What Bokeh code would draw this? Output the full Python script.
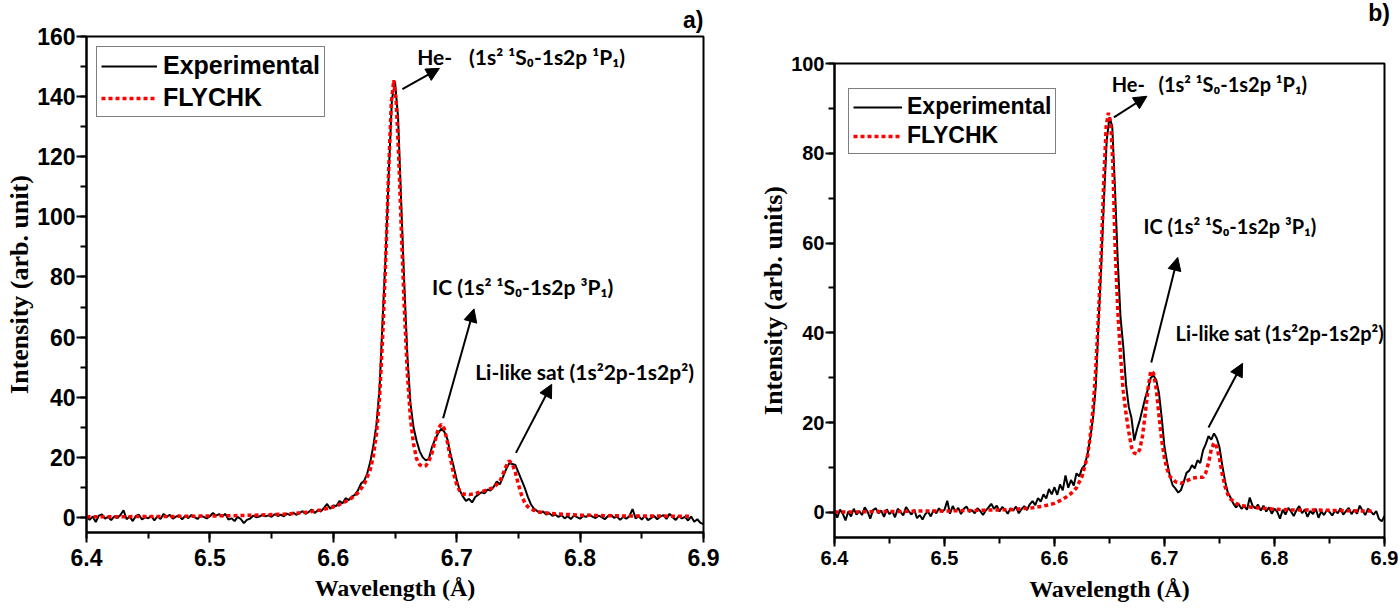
import numpy as np
from bokeh.plotting import figure
from bokeh.models import Arrow, NormalHead, Label, SingleIntervalTicker, Div
from bokeh.layouts import row, column
from bokeh.embed import file_html
from bokeh.resources import INLINE

# ---- data ----
# experimental spectra, sampled every 0.0025 A from 6.40 to 6.90
exp_a = [
    0.5, -0.8, 0.3, -1.5, 0.6, 1.0, -0.4, 0.2, -0.9, 0.4,
    -0.2, 0.8, 2.4, -0.6, 0.3, -1.2, 0.5, 0.9, -0.7, 0.1,
    -0.3, 0.6, -1.0, 0.4, -0.5, 1.2, 0.2, 0.9, -0.4, 0.3,
    0.7, -0.6, 0.5, -0.2, 0.8, 0.1, -0.5, 0.6, 0.2, -0.3,
    0.4, 1.5, 0.6, 1.1, 0.3, 1.2, -0.7, -0.3, -1.2, 0.2,
    -0.5, -1.9, -0.8, -0.4, 0.6, 0.1, 0.3, 0.9, 0.4, 0.7,
    0.2, 1.1, 0.5, 0.9, 0.4, 1.3, 0.8, 1.6, 0.9, 1.4,
    2.1, 1.2, 1.8, 2.6, 1.5, 2.4, 2.0, 3.2, 4.5, 2.9,
    4.0, 3.8, 5.5, 4.7, 6.4, 5.8, 6.9, 7.5, 9.0, 11.3,
    12.2, 14.6, 18.5, 24.0, 31.0, 43.0, 66.0, 88.0, 115.0, 139.0,
    145.0, 133.0, 105.0, 78.0, 54.0, 38.0, 30.0, 25.5, 22.0, 20.0,
    19.0, 19.5, 23.5, 26.0, 28.0, 29.5, 28.5, 26.0, 21.0, 17.0,
    12.5, 9.0, 7.0, 5.5, 6.2, 5.0, 6.8, 7.6, 8.4, 8.0,
    9.3, 9.0, 10.2, 12.0, 11.0, 13.5, 16.0, 18.0, 17.8, 17.5,
    15.0, 12.5, 10.0, 7.0, 4.5, 3.0, 2.2, 1.5, 2.0, 1.0,
    1.4, 0.6, 0.9, 0.2, 0.8, -0.3, 0.4, -0.5, 0.6, 0.1,
    -0.4, 0.5, 0.2, 1.0, 0.3, -0.2, 0.6, 0.1, -0.6, 0.4,
    0.9, -0.1, 0.3, -0.8, 0.2, -0.4, 0.5, 2.8, -0.3, 0.4,
    -0.7, 0.6, -0.9, -0.2, 0.5, -0.6, 0.3, 0.8, -0.5, 1.2,
    0.1, -0.8, 0.4, -0.3, 0.2, -1.0, 0.3, -1.4, -0.6, -1.8,
    -2.2,
]
exp_b = [
    0.4, -1.2, 0.6, -0.3, -1.8, 0.2, -0.9, 0.8, -0.5, 0.3,
    -0.6, 1.1, 0.2, -1.4, 0.5, 0.9, -0.2, 0.4, -1.0, 0.7,
    -0.4, 0.3, -1.1, 0.8, 0.1, -0.7, 1.2, 0.3, -0.5, 0.6,
    -1.3, -0.6, -1.6, -0.4, 0.2, -0.9, 0.5, -0.2, 0.9, 0.1,
    0.6, 2.6, -0.3, 1.4, 0.2, 1.0, -0.4, 0.8, 1.3, 0.1,
    0.5, -0.2, 0.9, 0.3, -0.6, 0.4, 1.1, 1.9, 0.8, 1.5,
    0.2, 1.2, 0.6, -0.3, 0.9, 0.4, 1.3, -0.2, 0.7, 1.4,
    0.5, 1.8, 2.5, 1.6, 3.2, 2.4, 4.0, 3.1, 5.2, 4.0,
    5.6, 3.9, 6.2, 4.9, 8.2, 5.5, 7.2, 6.0, 8.7, 8.0,
    9.8, 10.5, 13.0, 16.5, 21.0, 28.0, 42.0, 55.0, 70.0, 83.0,
    88.0, 86.0, 72.0, 56.0, 43.5, 37.0, 28.5, 23.5, 21.0, 16.0,
    18.5, 20.5, 23.0, 25.5, 27.5, 30.0, 30.5, 29.5, 26.5, 21.0,
    14.5, 11.0, 8.0, 6.0, 5.3, 4.4, 5.0, 6.8, 8.8, 9.3,
    10.5, 9.8, 11.6, 11.0, 13.8, 15.2, 17.0, 16.2, 17.6, 16.5,
    14.5, 10.5, 7.0, 4.5, 3.3, 2.0, 1.1, 1.8, 0.8, 1.4,
    0.6, 3.3, 1.5, 0.9, 1.7, 0.4, 1.5, 0.2, 1.1, -0.3,
    0.8, 0.1, -1.4, 0.6, -0.5, 1.0, 0.2, -0.8, 0.5, 1.4,
    -0.2, 0.6, -1.0, 0.3, -0.4, 0.8, -1.2, 0.2, -0.6, 0.5,
    0.1, -0.7, 0.4, -0.2, 0.9, -0.5, 0.3, 1.0, -0.4, 0.6,
    -0.3, 1.5, 0.4, -0.6, 0.8, 0.2, -0.5, 0.3, -1.5, -2.0,
    -0.8,
]
wl_exp = np.linspace(6.4, 6.9, len(exp_a))

# FLYCHK simulation
wl_fly = [6.40, 6.42, 6.44, 6.46, 6.48, 6.50, 6.52, 6.54, 6.56, 6.57,
          6.58, 6.59, 6.60, 6.605, 6.61, 6.615, 6.62, 6.625, 6.63, 6.6325,
          6.635, 6.6375, 6.64, 6.6425, 6.645, 6.647, 6.649, 6.651, 6.653, 6.655,
          6.6575, 6.66, 6.6625, 6.665, 6.6675, 6.67, 6.6725, 6.675, 6.6775, 6.68,
          6.6825, 6.685, 6.6875, 6.69, 6.6925, 6.695, 6.6975, 6.70, 6.7025, 6.705,
          6.71, 6.715, 6.72, 6.725, 6.73, 6.735, 6.7375, 6.74, 6.7425, 6.745,
          6.7475, 6.75, 6.7525, 6.755, 6.7575, 6.76, 6.765, 6.77, 6.78, 6.79,
          6.80, 6.82, 6.84, 6.86, 6.88, 6.89]
fly_a = [0.2, 0.2, 0.3, 0.3, 0.4, 0.5, 0.6, 0.8, 1.1, 1.4,
         1.8, 2.5, 3.5, 4.3, 5.3, 6.5, 8.2, 11.0, 16.0, 20.5,
         28.0, 40.0, 60.0, 86.0, 117.0, 138.0, 145.5, 138.0, 120.0, 97.0,
         70.0, 48.0, 33.0, 24.5, 19.5, 17.5, 17.0, 17.2, 18.8, 21.5,
         25.5, 29.5, 31.0, 29.5, 25.0, 19.5, 14.5, 11.0, 8.8, 7.8,
         7.6, 7.9, 8.6, 9.2, 10.0, 12.0, 14.5, 17.0, 18.8, 18.0,
         15.0, 11.0, 7.5, 5.0, 3.6, 2.8, 2.0, 1.6, 1.2, 1.0,
         0.8, 0.6, 0.5, 0.5, 0.4, 0.4]
fly_b = [0.1, 0.1, 0.2, 0.2, 0.3, 0.3, 0.4, 0.5, 0.6, 0.8,
         1.0, 1.4, 2.0, 2.6, 3.3, 4.2, 5.5, 8.0, 12.5, 17.0,
         23.0, 32.0, 44.0, 58.0, 75.0, 86.0, 89.0, 87.0, 78.0, 60.0,
         45.0, 35.0, 27.0, 22.0, 18.0, 14.5, 13.2, 13.0, 14.0, 17.0,
         22.0, 27.5, 31.5, 31.0, 27.5, 21.5, 16.0, 12.0, 9.5, 8.0,
         6.8, 6.5, 7.0, 7.6, 7.8, 7.8, 8.8, 11.0, 14.0, 15.5,
         14.5, 12.0, 8.5, 5.8, 4.0, 3.0, 2.0, 1.5, 1.1, 0.9,
         0.7, 0.5, 0.5, 0.4, 0.3, 0.3]

# line identifications
ann_text = ["He-", "(1s\u00b2 \u00b9S\u2080-1s2p \u00b9P\u2081)",
            "IC (1s\u00b2 \u00b9S\u2080-1s2p \u00b3P\u2081)",
            "Li-like sat (1s\u00b22p-1s2p\u00b2)"]
ann_a_x = [6.668, 6.710, 6.680, 6.715]
ann_a_y = [153.4, 153.4, 76.7, 48.6]
ann_b_x = [6.652, 6.6945, 6.681, 6.710]
ann_b_y = [95.5, 95.5, 63.9, 39.9]
arr_a = {"x0": [6.656, 6.689, 6.748], "y0": [142.5, 33.0, 21.5],
         "x1": [6.686, 6.714, 6.777], "y1": [149.4, 69.4, 44.3]}
arr_b = {"x0": [6.654, 6.688, 6.740], "y0": [88.0, 33.4, 18.9],
         "x1": [6.684, 6.712, 6.771], "y1": [92.7, 56.8, 33.2]}


def make_panel(exp, fly, yr, ylabel, ylabel_px, tag, ann_x, ann_y, arr, width, height,
               border_left, frame_w, border_top, border_bottom, tick_px, title_px,
               ann_px, leg_px, tick_len, lab_standoff, title_standoff):
    p = figure(width=width, height=height, x_range=(6.4, 6.9), y_range=yr,
               title=tag, output_backend="svg", toolbar_location=None,
               min_border_left=border_left, min_border_right=width - border_left - frame_w,
               min_border_top=border_top, min_border_bottom=border_bottom)
    p.grid.visible = False
    p.outline_line_color = "black"
    p.outline_line_width = 2

    if tag is not None:
        # panel tag as a right-aligned title
        p.title.align = "right"
        p.title.text_font = "Liberation Sans"
        p.title.text_font_style = "bold"
        p.title.text_font_size = "23px"
        p.title.text_color = "black"
        p.title.standoff = 8

    p.line(wl_exp, exp, line_color="black", line_width=2, legend_label="Experimental")
    p.line(wl_fly, fly, line_color="red", line_width=3.5, line_dash="4 3",
           legend_label="FLYCHK")

    p.xaxis.ticker = SingleIntervalTicker(interval=0.1, num_minor_ticks=2)
    p.yaxis.ticker = SingleIntervalTicker(interval=20, num_minor_ticks=2)
    p.xaxis.axis_label = "Wavelength (\u00c5)"
    p.yaxis.axis_label = ylabel
    for ax in (p.xaxis, p.yaxis):
        ax.axis_line_width = 2
        ax.major_tick_line_width = 2
        ax.minor_tick_line_width = 2
        ax.major_tick_in = 0
        ax.minor_tick_in = 0
        ax.major_tick_out = tick_len
        ax.minor_tick_out = 6
        ax.major_label_text_font = "Liberation Sans"
        ax.major_label_text_font_style = "bold"
        ax.major_label_text_font_size = tick_px
        ax.major_label_text_color = "black"
        ax.axis_label_text_font = "Liberation Serif"
        ax.axis_label_text_font_style = "bold"
        ax.axis_label_text_color = "black"
        ax.axis_label_standoff = 0
    p.xaxis.major_label_standoff = lab_standoff
    p.xaxis.axis_label_standoff = title_standoff
    p.yaxis.major_label_standoff = 1
    p.xaxis.axis_label_text_font_size = title_px
    p.yaxis.axis_label_text_font_size = ylabel_px

    for t, x, y in zip(ann_text, ann_x, ann_y):
        p.add_layout(Label(x=x, y=y, text=t, text_font="Lato", text_font_style="bold",
                           text_font_size=ann_px, text_color="black",
                           text_baseline="middle"))
    for i in range(len(arr["x0"])):
        p.add_layout(Arrow(end=NormalHead(size=13, fill_color="black", line_color="black"),
                           x_start=arr["x0"][i], y_start=arr["y0"][i],
                           x_end=arr["x1"][i], y_end=arr["y1"][i],
                           line_color="black", line_width=2))

    p.legend.label_text_font = "Liberation Sans"
    p.legend.label_text_font_style = "bold"
    p.legend.label_text_font_size = leg_px
    p.legend.label_text_color = "black"
    p.legend.border_line_color = "black"
    p.legend.border_line_width = 1.5
    p.legend.background_fill_alpha = 1
    return p


# panel a: frame x 86..703, y 33..532
p1 = make_panel(exp_a, fly_a, (-5.0, 160), "Intensity (arb. unit)", "26px", "a)",
                ann_a_x, ann_a_y, arr_a, 740, 608, 86, 617, 33, 76,
                "23px", "24px", "21px", "25px", 10, 6, 6)
p1.legend.location = "top_left"
p1.legend.margin = 10
p1.legend.padding = 4
p1.legend.spacing = 3
p1.legend.label_height = 28
p1.legend.glyph_height = 28
p1.legend.glyph_width = 56
p1.legend.label_standoff = 6

# panel b: frame x 834..1384, y 63..537 (below a 30px tag strip)
p2 = make_panel(exp_b, fly_b, (-5.6, 100), "Intensity (arb. units)", "26px", None,
                ann_b_x, ann_b_y, arr_b, 660, 579, 94, 550, 33, 72,
                "20px", "24px", "20px", "23px", 9, 4, 8)
p2.legend.location = (14, 383)
p2.legend.padding = 4
p2.legend.spacing = 2
p2.legend.label_height = 26
p2.legend.glyph_height = 26
p2.legend.glyph_width = 49
p2.legend.label_standoff = 5

tag_b = Div(text="b)", width=650, height=30, margin=0,
            styles={"text-align": "right", "font-family": "Liberation Sans",
                    "font-weight": "bold", "font-size": "23px", "color": "black",
                    "line-height": "26px"})

layout = row(p1, column(tag_b, p2))
open("out.html", "w").write(file_html(layout, INLINE))
